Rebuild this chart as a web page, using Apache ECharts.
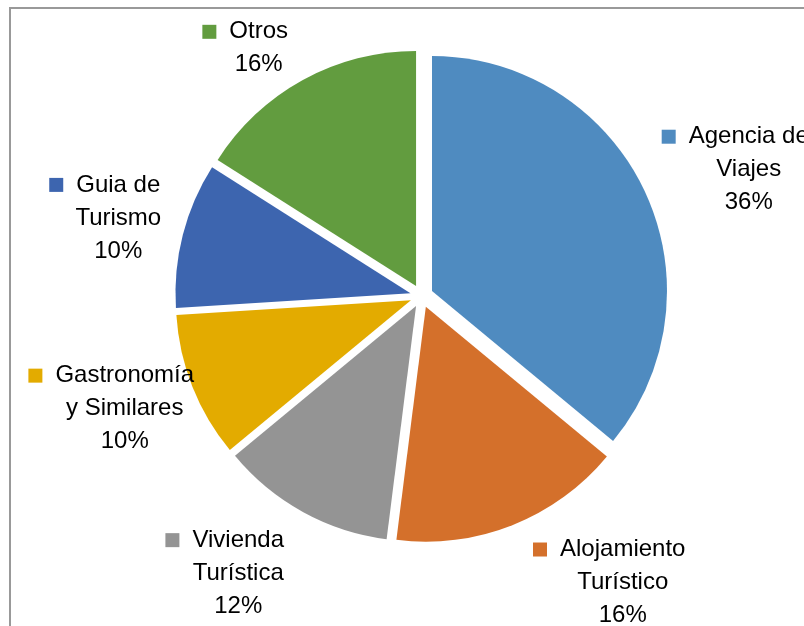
<!DOCTYPE html>
<html>
<head>
<meta charset="utf-8">
<script src="https://cdn.jsdelivr.net/npm/echarts@6/dist/echarts.min.js"></script>
<style>
html,body{margin:0;padding:0;background:#fff;}
#chart{width:804px;height:626px;}
</style>
</head>
<body>
<div id="chart"></div>
<script>
// ---- data ----
const categories = ['Agencia de Viajes', 'Alojamiento Turístico', 'Vivienda Turística', 'Gastronomía y Similares', 'Guia de Turismo', 'Otros'];
const labelLines = [['Agencia de', 'Viajes'], ['Alojamiento', 'Turístico'], ['Vivienda', 'Turística'], ['Gastronomía', 'y Similares'], ['Guia de', 'Turismo'], ['Otros']];
const values = [36, 16, 12, 10, 10, 16];

// ---- layout / style ----
const colors = ['#4F8BC0', '#D4702B', '#949494', '#E3AB00', '#3D65AF', '#629C3F'];
const labelNudge = [[0, 4], [9, 2], [-6, 9], [19, 0], [-4, -2], [-2, 6]];
const CX = 421.6, CY = 296, R = 235, EXPLODE = 11.5, LABEL_GAP = 10;
const FONT = 'Liberation Sans';

const total = values.reduce((a, b) => a + b, 0);
const midAngles = [];
let cum = 0;
values.forEach(v => {
  midAngles.push((90 - (cum + v / 2) / total * 360) * Math.PI / 180);
  cum += v;
});

function fmt(params) {
  const lines = labelLines[params.dataIndex].slice();
  lines.push(Math.round(params.percent) + '%');
  return lines.map((t, k) => (k === 0 ? '{m|}{g|}' : '{s|}') + '{t|' + t + '}').join('\n');
}

const series = values.map((_, i) => {
  const a = midAngles[i];
  return {
    type: 'pie',
    silent: true,
    animation: false,
    radius: R,
    center: [CX + EXPLODE * Math.cos(a), CY - EXPLODE * Math.sin(a)],
    startAngle: 90,
    clockwise: true,
    avoidLabelOverlap: false,
    labelLine: { show: false },
    emphasis: { disabled: true },
    data: categories.map((name, j) => ({
      name: name,
      value: values[j],
      itemStyle: j === i ? { color: colors[j] } : { color: 'rgba(0,0,0,0)' },
      label: j === i ? {
        show: true,
        position: 'outside',
        formatter: fmt,
        color: '#000',
        fontFamily: FONT,
        fontSize: 24,
        lineHeight: 33,
        align: 'center',
        rich: {
          m: { width: 14, height: 14, backgroundColor: colors[j] },
          g: { width: 13 },
          s: { width: 27 },
          t: { fontFamily: FONT, fontSize: 24, lineHeight: 33, color: '#000' }
        }
      } : { show: false }
    })),
    labelLayout: function (params) {
      if (params.dataIndex !== i) return {};
      const w = params.labelRect.width, h = params.labelRect.height;
      const rr = R + EXPLODE + LABEL_GAP;
      const px = CX + rr * Math.cos(a), py = CY - rr * Math.sin(a);
      const sx = Math.cos(a) >= 0 ? 1 : -1;
      return {
        x: px + sx * (w / 2 + 8) + labelNudge[i][0],
        y: py - Math.sin(a) * h / 2 + labelNudge[i][1],
        align: 'center',
        verticalAlign: 'middle'
      };
    }
  };
});

const chart = echarts.init(document.getElementById('chart'), null, { renderer: 'canvas' });
chart.setOption({
  backgroundColor: '#fff',
  animation: false,
  graphic: [{
    type: 'rect',
    shape: { x: 10, y: 8, width: 900, height: 900 },
    style: { fill: 'none', stroke: '#999', lineWidth: 2 },
    silent: true,
    z: -1
  }],
  series: series
});
</script>
</body>
</html>
